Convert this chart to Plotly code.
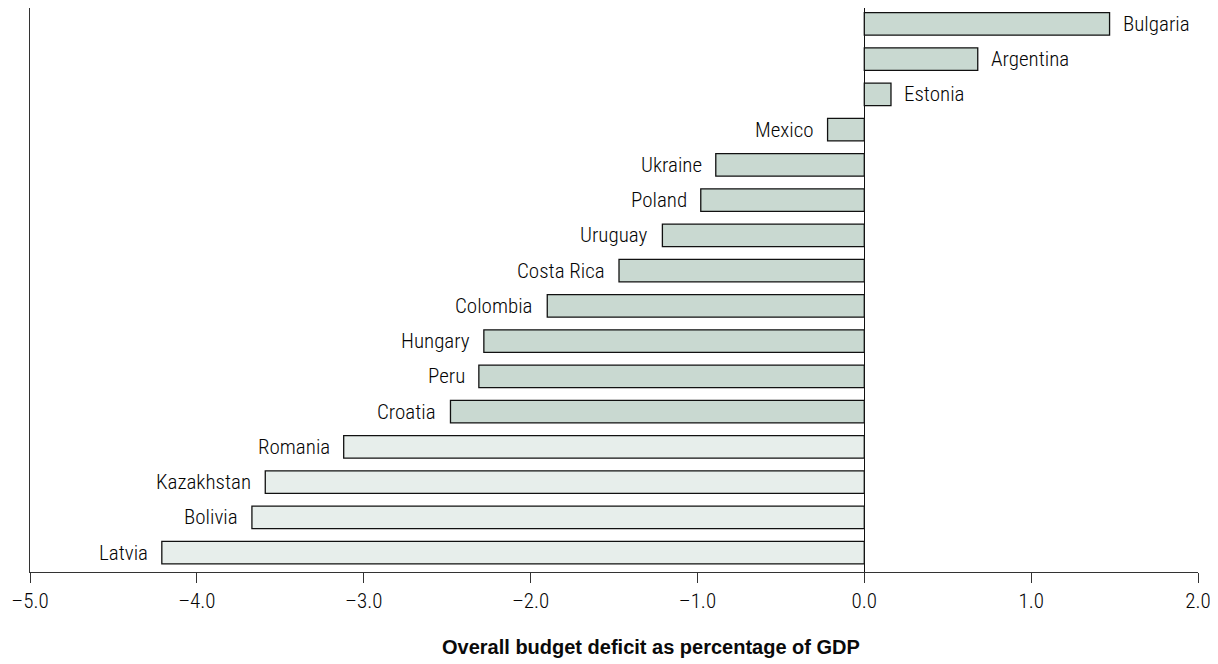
import plotly.graph_objects as go

countries = ["Bulgaria", "Argentina", "Estonia", "Mexico", "Ukraine", "Poland",
             "Uruguay", "Costa Rica", "Colombia", "Hungary", "Peru", "Croatia",
             "Romania", "Kazakhstan", "Bolivia", "Latvia"]
deficit = [1.47, 0.68, 0.16, -0.22, -0.89, -0.98, -1.21, -1.47, -1.90, -2.28,
           -2.31, -2.48, -3.12, -3.59, -3.67, -4.21]
group = ["dark"] * 12 + ["light"] * 4

tick_vals = [-5, -4, -3, -2, -1, 0, 1, 2]
tick_text = ["\u20135.0", "\u20134.0", "\u20133.0", "\u20132.0", "\u20131.0", "0.0", "1.0", "2.0"]
x_title = "Overall budget deficit as percentage of GDP"

colors = {"dark": "#c9d9d1", "light": "#e7eeeb"}
FONT = "Roboto Condensed, Liberation Sans Narrow, Arial Narrow, sans-serif"
TFONT = "Liberation Sans, Arial, sans-serif"
TXT = "#050505"

fig = go.Figure()
fig.add_trace(go.Bar(
    x=deficit, y=countries, orientation="h",
    marker=dict(color=[colors[g] for g in group], line=dict(color="#111111", width=1.3)),
    width=0.64, hoverinfo="x+y",
))

for c, v in zip(countries, deficit):
    fig.add_annotation(
        x=v, y=c, text=c, showarrow=False,
        xanchor="left" if v >= 0 else "right",
        xshift=11 if v >= 0 else -12,
        font=dict(family=FONT, size=21, color=TXT, weight=350),
    )

fig.add_annotation(
    xref="paper", yref="paper", x=0.5317, y=-0.133,
    xanchor="center", yanchor="middle", showarrow=False,
    text="<b>" + x_title + "</b>",
    font=dict(family=TFONT, size=20, color="#0a0a0a"),
)

fig.update_layout(
    width=1218, height=664,
    margin=dict(l=22, r=28, t=0, b=100),
    plot_bgcolor="white", paper_bgcolor="white",
    showlegend=False,
    font=dict(family=FONT, size=21, color=TXT),
    xaxis=dict(
        range=[-5, 2], tickvals=tick_vals, ticktext=tick_text,
        ticks="outside", ticklen=10, tickwidth=1.3, tickcolor="#333333",
        showline=True, linecolor="#333333", linewidth=1.3,
        showgrid=False, zeroline=True, zerolinecolor="#111111", zerolinewidth=1.3,
        tickfont=dict(family=FONT, size=21, color=TXT, weight=350),
    ),
    yaxis=dict(
        categoryorder="array", categoryarray=countries[::-1],
        range=[-0.55, 15.45], showticklabels=False, ticks="",
        showline=True, linecolor="#333333", linewidth=1.3, showgrid=False,
    ),
)

fig.write_html("out.html")
